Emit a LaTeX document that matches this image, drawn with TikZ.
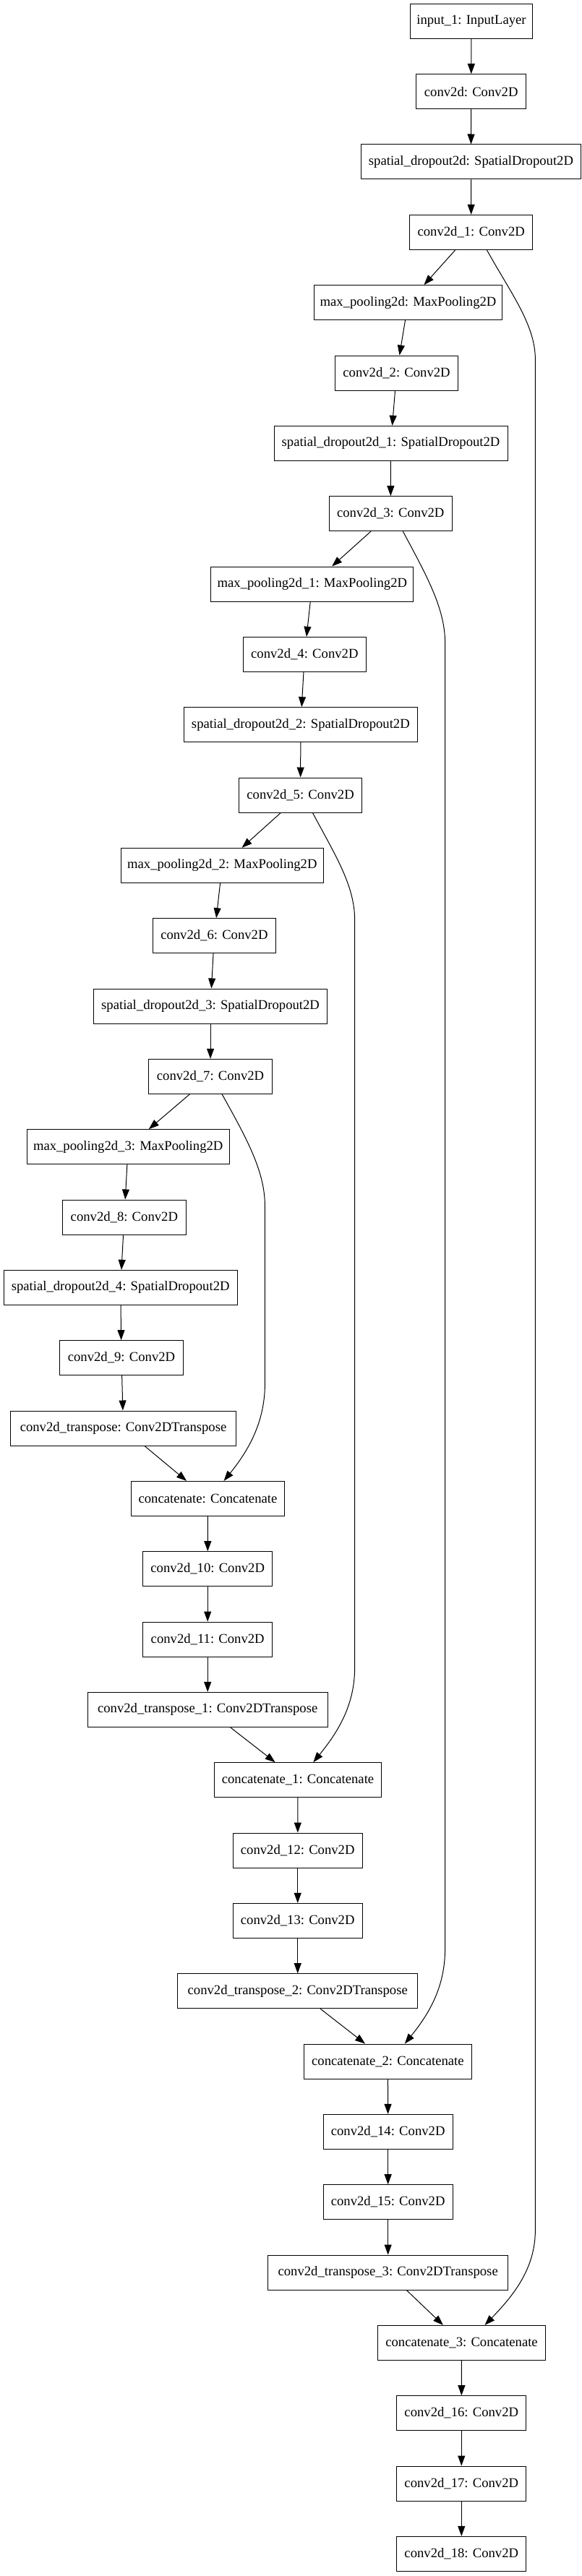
\documentclass[tikz,border=0pt]{standalone}
\usepackage{fontspec}
\setmainfont{Liberation Serif}
\usetikzlibrary{arrows.meta}

\begin{document}
\begin{tikzpicture}[
        x=1pt, y=1pt,
        layer/.style={draw, line width=0.75pt, minimum height=36pt, inner xsep=4pt, align=center, font=\fontsize{14pt}{16pt}\selectfont},
        ->, % arrow style
        line width=0.75pt,
        >={Triangle[length=10.5pt, width=7.5pt]} % arrowhead style
      ]
      \useasboundingbox (0,0) rectangle (603.75,-2673);

      % Nodes
      \node (input) [layer, minimum width=126.5pt] at (489.0,-22) {input\_1: InputLayer};
      \node (conv) [layer, minimum width=113.8pt] at (488.8,-95) {conv2d: Conv2D};
      \node (sdrop) [layer, minimum width=228pt] at (488.6,-168) {spatial\_dropout2d: SpatialDropout2D};
      \node (conv1) [layer, minimum width=127.7pt] at (488.8,-241) {conv2d\_1: Conv2D};
      \node (pool) [layer, minimum width=195pt] at (423.4,-314) {max\_pooling2d: MaxPooling2D};
      \node (conv2) [layer, minimum width=127.7pt] at (411.4,-387) {conv2d\_2: Conv2D};
      \node (sdrop1) [layer, minimum width=242.3pt] at (405.4,-460) {spatial\_dropout2d\_1: SpatialDropout2D};
      \node (conv3) [layer, minimum width=127.7pt] at (405.2,-533) {conv2d\_3: Conv2D};
      \node (pool1) [layer, minimum width=210pt] at (323.9,-606) {max\_pooling2d\_1: MaxPooling2D};
      \node (conv4) [layer, minimum width=127.7pt] at (316.0,-679) {conv2d\_4: Conv2D};
      \node (sdrop2) [layer, minimum width=242.3pt] at (311.9,-752) {spatial\_dropout2d\_2: SpatialDropout2D};
      \node (conv5) [layer, minimum width=127.7pt] at (311.7,-825) {conv2d\_5: Conv2D};
      \node (pool2) [layer, minimum width=210pt] at (230.5,-898) {max\_pooling2d\_2: MaxPooling2D};
      \node (conv6) [layer, minimum width=127.7pt] at (222.3,-971) {conv2d\_6: Conv2D};
      \node (sdrop3) [layer, minimum width=242.3pt] at (218.3,-1044) {spatial\_dropout2d\_3: SpatialDropout2D};
      \node (conv7) [layer, minimum width=127.7pt] at (218.3,-1117) {conv2d\_7: Conv2D};
      \node (pool3) [layer, minimum width=210pt] at (132.9,-1190) {max\_pooling2d\_3: MaxPooling2D};
      \node (conv8) [layer, minimum width=127.7pt] at (128.9,-1263) {conv2d\_8: Conv2D};
      \node (sdrop4) [layer, minimum width=242.3pt] at (125.0,-1336) {spatial\_dropout2d\_4: SpatialDropout2D};
      \node (conv9) [layer, minimum width=127.7pt] at (126.0,-1409) {conv2d\_9: Conv2D};
      \node (convt) [layer, minimum width=234pt] at (127.9,-1482) {conv2d\_transpose: Conv2DTranspose};
      \node (cat) [layer, minimum width=158.7pt] at (215.6,-1555) {concatenate: Concatenate};
      \node (conv10) [layer, minimum width=134.3pt] at (215.4,-1628) {conv2d\_10: Conv2D};
      \node (conv11) [layer, minimum width=134.3pt] at (215.4,-1701) {conv2d\_11: Conv2D};
      \node (convt1) [layer, minimum width=248.8pt] at (215.4,-1774) {conv2d\_transpose\_1: Conv2DTranspose};
      \node (cat1) [layer, minimum width=173.8pt] at (309.0,-1847) {concatenate\_1: Concatenate};
      \node (conv12) [layer, minimum width=134.3pt] at (308.8,-1920) {conv2d\_12: Conv2D};
      \node (conv13) [layer, minimum width=134.3pt] at (308.8,-1993) {conv2d\_13: Conv2D};
      \node (convt2) [layer, minimum width=248.8pt] at (308.8,-2066) {conv2d\_transpose\_2: Conv2DTranspose};
      \node (cat2) [layer, minimum width=173.8pt] at (402.3,-2139) {concatenate\_2: Concatenate};
      \node (conv14) [layer, minimum width=134.3pt] at (402.5,-2212) {conv2d\_14: Conv2D};
      \node (conv15) [layer, minimum width=134.3pt] at (402.5,-2285) {conv2d\_15: Conv2D};
      \node (convt3) [layer, minimum width=248.8pt] at (402.5,-2358) {conv2d\_transpose\_3: Conv2DTranspose};
      \node (cat3) [layer, minimum width=173.8pt] at (478.9,-2431) {concatenate\_3: Concatenate};
      \node (conv16) [layer, minimum width=134.3pt] at (478.7,-2504) {conv2d\_16: Conv2D};
      \node (conv17) [layer, minimum width=134.3pt] at (478.7,-2577) {conv2d\_17: Conv2D};
      \node (conv18) [layer, minimum width=134.3pt] at (478.7,-2650) {conv2d\_18: Conv2D};

      % Skip bends
      \coordinate (skipA1) at (274.8,-1251);
      \coordinate (skipA2) at (274.8,-1436);
      \coordinate (skipB1) at (368.0,-955);
      \coordinate (skipB2) at (368.0,-1730);
      \coordinate (skipC1) at (461.7,-667);
      \coordinate (skipC2) at (461.7,-2022);
      \coordinate (skipD1) at (555.3,-373);
      \coordinate (skipD2) at (555.3,-2314);

      % Arrows
      \draw (input) -- (conv);
      \draw (conv) -- (sdrop);
      \draw (sdrop) -- (conv1);
      \draw (conv1) -- (pool);
      \draw (pool) -- (conv2);
      \draw (conv2) -- (sdrop1);
      \draw (sdrop1) -- (conv3);
      \draw (conv3) -- (pool1);
      \draw (pool1) -- (conv4);
      \draw (conv4) -- (sdrop2);
      \draw (sdrop2) -- (conv5);
      \draw (conv5) -- (pool2);
      \draw (pool2) -- (conv6);
      \draw (conv6) -- (sdrop3);
      \draw (sdrop3) -- (conv7);
      \draw (conv7) -- (pool3);
      \draw (pool3) -- (conv8);
      \draw (conv8) -- (sdrop4);
      \draw (sdrop4) -- (conv9);
      \draw (conv9) -- (convt);
      \draw (convt) -- (cat);
      \draw (cat) -- (conv10);
      \draw (conv10) -- (conv11);
      \draw (conv11) -- (convt1);
      \draw (convt1) -- (cat1);
      \draw (cat1) -- (conv12);
      \draw (conv12) -- (conv13);
      \draw (conv13) -- (convt2);
      \draw (convt2) -- (cat2);
      \draw (cat2) -- (conv14);
      \draw (conv14) -- (conv15);
      \draw (conv15) -- (convt3);
      \draw (convt3) -- (cat3);
      \draw (cat3) -- (conv16);
      \draw (conv16) -- (conv17);
      \draw (conv17) -- (conv18);

      % Skip connections
      \draw ([xshift=12pt]conv7.south) .. controls +(25,-45) and +(0,36) .. (skipA1) -- (skipA2)
            .. controls +(0,-39) and +(26,32) .. ([xshift=16.6pt]cat.north);
      \draw ([xshift=12.6pt]conv5.south) .. controls +(24,-45) and +(0,36) .. (skipB1) -- (skipB2)
            .. controls +(0,-39) and +(26,32) .. ([xshift=16pt]cat1.north);
      \draw ([xshift=12.8pt]conv3.south) .. controls +(24,-45) and +(0,36) .. (skipC1) -- (skipC2)
            .. controls +(0,-39) and +(26,32) .. ([xshift=17.6pt]cat2.north);
      \draw ([xshift=16.2pt]conv1.south) .. controls +(25,-45) and +(0,36) .. (skipD1) -- (skipD2)
            .. controls +(0,-39) and +(31,32) .. ([xshift=24pt]cat3.north);

    \end{tikzpicture}
\end{document}
